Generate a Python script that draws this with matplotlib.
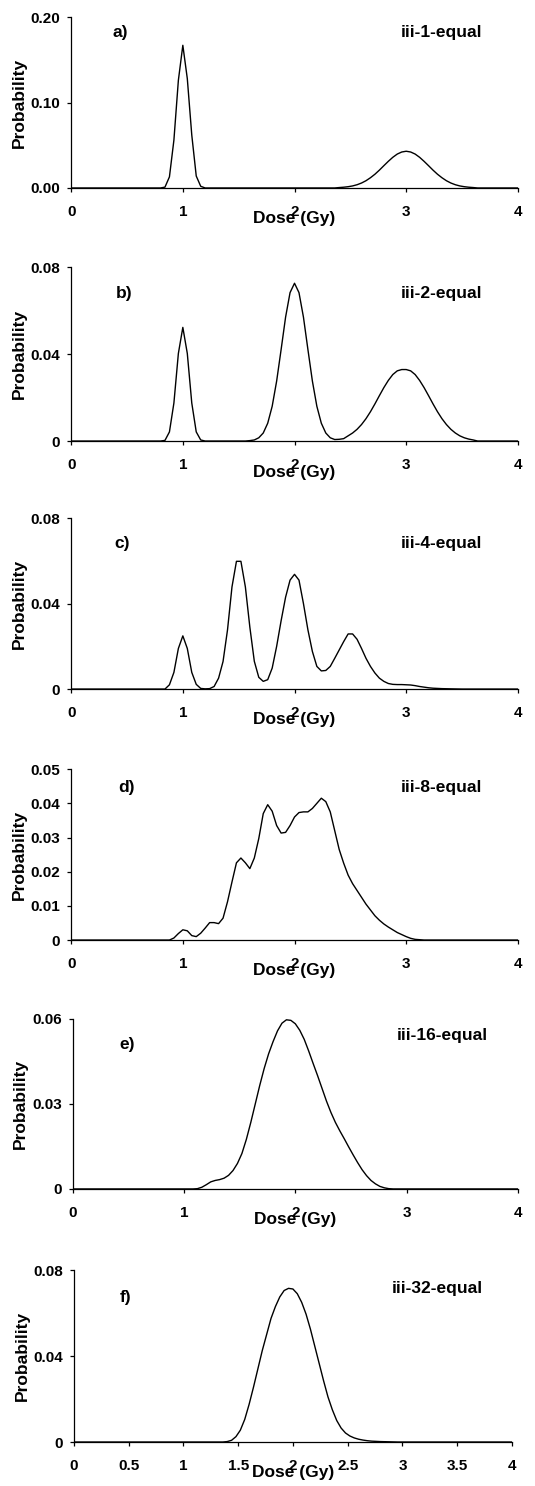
import matplotlib
matplotlib.use("Agg")
import matplotlib.pyplot as plt

plt.rcParams['font.family'] = ['Liberation Sans', 'DejaVu Sans']
plt.rcParams['font.weight'] = 'bold'

# dose grid is 0.04 Gy; only the non-zero stretch of each curve is listed,
# plus zero end points at 0 and 4 Gy

# a) iii-1-equal
dose_a = [0.0, 0.80, 0.84, 0.88, 0.92, 0.96, 1.00, 1.04, 1.08, 1.12, 1.16, 1.20,
          2.36, 2.40, 2.44, 2.48, 2.52, 2.56, 2.60, 2.64, 2.68, 2.72, 2.76, 2.80,
          2.84, 2.88, 2.92, 2.96, 3.00, 3.04, 3.08, 3.12, 3.16, 3.20, 3.24, 3.28,
          3.32, 3.36, 3.40, 3.44, 3.48, 3.52, 3.56, 3.60, 3.64, 4.0]
prob_a = [0.0, 0.0, 0.001, 0.013, 0.056, 0.126, 0.167, 0.128, 0.062, 0.014, 0.002, 0.0,
          0.0, 0.0005, 0.0009, 0.0015, 0.0024, 0.0038, 0.0058, 0.0085, 0.0120, 0.0161, 0.0209, 0.0261,
          0.0312, 0.0359, 0.0397, 0.0421, 0.0430, 0.0421, 0.0397, 0.0359, 0.0312, 0.0261, 0.0209, 0.0161,
          0.0120, 0.0085, 0.0058, 0.0038, 0.0024, 0.0015, 0.0009, 0.0005, 0.0, 0.0]

# b) iii-2-equal
dose_b = [0.0, 0.80, 0.84, 0.88, 0.92, 0.96, 1.00, 1.04, 1.08, 1.12, 1.16, 1.20,
          1.56, 1.60, 1.64, 1.68, 1.72, 1.76, 1.80, 1.84, 1.88, 1.92, 1.96, 2.00,
          2.04, 2.08, 2.12, 2.16, 2.20, 2.24, 2.28, 2.32, 2.36, 2.40, 2.44, 2.48,
          2.52, 2.56, 2.60, 2.64, 2.68, 2.72, 2.76, 2.80, 2.84, 2.88, 2.92, 2.96,
          3.00, 3.04, 3.08, 3.12, 3.16, 3.20, 3.24, 3.28, 3.32, 3.36, 3.40, 3.44,
          3.48, 3.52, 3.56, 3.60, 3.64, 4.0]
prob_b = [0.0, 0.0, 0.0003, 0.0042, 0.0175, 0.0403, 0.0523, 0.0403, 0.0175, 0.0042, 0.0005, 0.0,
          0.0, 0.0002, 0.0005, 0.0015, 0.0037, 0.0082, 0.0160, 0.0276, 0.0421, 0.0570, 0.0683, 0.0726,
          0.0683, 0.0570, 0.0421, 0.0276, 0.0160, 0.0082, 0.0037, 0.0015, 0.0007, 0.0008, 0.0011, 0.0024,
          0.0037, 0.0054, 0.0076, 0.0103, 0.0135, 0.0171, 0.0209, 0.0246, 0.0279, 0.0306, 0.0323, 0.0329,
          0.0329, 0.0323, 0.0306, 0.0279, 0.0246, 0.0209, 0.0171, 0.0135, 0.0103, 0.0076, 0.0054, 0.0037,
          0.0024, 0.0015, 0.0009, 0.0005, 0.0, 0.0]

# c) iii-4-equal
dose_c = [0.0, 0.84, 0.88, 0.92, 0.96, 1.00, 1.04, 1.08, 1.12, 1.16, 1.20, 1.24,
          1.28, 1.32, 1.36, 1.40, 1.44, 1.48, 1.52, 1.56, 1.60, 1.64, 1.68, 1.72,
          1.76, 1.80, 1.84, 1.88, 1.92, 1.96, 2.00, 2.04, 2.08, 2.12, 2.16, 2.20,
          2.24, 2.28, 2.32, 2.36, 2.40, 2.44, 2.48, 2.52, 2.56, 2.60, 2.64, 2.68,
          2.72, 2.76, 2.80, 2.84, 2.88, 2.92, 2.96, 3.00, 3.04, 3.08, 3.12, 3.16,
          3.20, 3.24, 3.28, 3.32, 3.40, 3.50, 4.0]
prob_c = [0.0, 0.0, 0.002, 0.0078, 0.019, 0.0249, 0.019, 0.0078, 0.0022, 0.0003, 0.0001, 0.0002,
          0.0012, 0.0051, 0.0129, 0.0277, 0.0478, 0.0598, 0.0598, 0.0478, 0.0290, 0.0130, 0.0055, 0.0036,
          0.0044, 0.0098, 0.0200, 0.0320, 0.0430, 0.0510, 0.0537, 0.0510, 0.0400, 0.0277, 0.0176, 0.0106,
          0.0085, 0.0087, 0.0106, 0.0144, 0.0183, 0.0222, 0.0258, 0.0258, 0.0233, 0.0190, 0.0144, 0.0106,
          0.0075, 0.0051, 0.0036, 0.0026, 0.0022, 0.0021, 0.0021, 0.0020, 0.0019, 0.0016, 0.0012, 0.0009,
          0.0006, 0.0004, 0.0003, 0.0002, 0.0001, 0.0, 0.0]

# d) iii-8-equal
dose_d = [0.0, 0.88, 0.92, 0.96, 1.00, 1.04, 1.08, 1.12, 1.16, 1.20, 1.24, 1.28,
          1.32, 1.36, 1.40, 1.44, 1.48, 1.52, 1.56, 1.60, 1.64, 1.68, 1.72, 1.76,
          1.80, 1.84, 1.88, 1.92, 1.96, 2.00, 2.04, 2.08, 2.12, 2.16, 2.20, 2.24,
          2.28, 2.32, 2.36, 2.40, 2.44, 2.48, 2.52, 2.56, 2.60, 2.64, 2.68, 2.72,
          2.76, 2.80, 2.84, 2.88, 2.92, 2.96, 3.00, 3.04, 3.08, 3.12, 3.16, 4.0]
prob_d = [0.0, 0.0, 0.0006, 0.0019, 0.0030, 0.0027, 0.0013, 0.0010, 0.0020, 0.0035, 0.0051, 0.0051,
          0.0048, 0.0064, 0.0112, 0.0170, 0.0226, 0.0240, 0.0226, 0.0209, 0.0240, 0.0297, 0.0370, 0.0396,
          0.0377, 0.0335, 0.0313, 0.0315, 0.0335, 0.0360, 0.0373, 0.0375, 0.0375, 0.0385, 0.0400, 0.0415,
          0.0405, 0.0375, 0.0320, 0.0265, 0.0225, 0.0190, 0.0165, 0.0145, 0.0125, 0.0105, 0.0088, 0.0071,
          0.0058, 0.0047, 0.0038, 0.0030, 0.0022, 0.0016, 0.0010, 0.0005, 0.0002, 0.0001, 0.0, 0.0]

# e) iii-16-equal
dose_e = [0.0, 1.08, 1.12, 1.16, 1.20, 1.24, 1.28, 1.32, 1.36, 1.40, 1.44, 1.48,
          1.52, 1.56, 1.60, 1.64, 1.68, 1.72, 1.76, 1.80, 1.84, 1.88, 1.92, 1.96,
          2.00, 2.04, 2.08, 2.12, 2.16, 2.20, 2.24, 2.28, 2.32, 2.36, 2.40, 2.44,
          2.48, 2.52, 2.56, 2.60, 2.64, 2.68, 2.72, 2.76, 2.80, 2.84, 2.88, 4.0]
prob_e = [0.0, 0.0, 0.0001, 0.0006, 0.0015, 0.0025, 0.0030, 0.0033, 0.0038, 0.0048, 0.0065, 0.0090,
          0.0125, 0.0175, 0.0235, 0.0300, 0.0365, 0.0425, 0.0477, 0.0520, 0.0558, 0.0585, 0.0597, 0.0595,
          0.0583, 0.0560, 0.0528, 0.0487, 0.0443, 0.0400, 0.0355, 0.0310, 0.0270, 0.0235, 0.0205, 0.0177,
          0.0148, 0.0120, 0.0093, 0.0068, 0.0047, 0.0030, 0.0018, 0.0009, 0.0004, 0.0001, 0.0, 0.0]

# f) iii-32-equal
dose_f = [0.0, 1.36, 1.40, 1.44, 1.48, 1.52, 1.56, 1.60, 1.64, 1.68, 1.72, 1.76,
          1.80, 1.84, 1.88, 1.92, 1.96, 2.00, 2.04, 2.08, 2.12, 2.16, 2.20, 2.24,
          2.28, 2.32, 2.36, 2.40, 2.44, 2.48, 2.52, 2.56, 2.60, 2.64, 2.68, 2.72,
          2.76, 2.80, 2.88, 2.96, 4.0]
prob_f = [0.0, 0.0, 0.0002, 0.0008, 0.0025, 0.0055, 0.0105, 0.0175, 0.0255, 0.0340, 0.0425, 0.0500,
          0.0575, 0.0630, 0.0675, 0.0705, 0.0715, 0.0712, 0.0690, 0.0650, 0.0595, 0.0525, 0.0445, 0.0365,
          0.0285, 0.0210, 0.0150, 0.0100, 0.0065, 0.0042, 0.0028, 0.0019, 0.0013, 0.0009, 0.0006, 0.0004,
          0.0003, 0.0002, 0.0001, 0.0, 0.0]

letters = ['a)', 'b)', 'c)', 'd)', 'e)', 'f)']
names = ['iii-1-equal', 'iii-2-equal', 'iii-4-equal', 'iii-8-equal', 'iii-16-equal', 'iii-32-equal']
yticks = [[0.0, 0.10, 0.20], [0, 0.04, 0.08], [0, 0.04, 0.08],
          [0, 0.01, 0.02, 0.03, 0.04, 0.05], [0, 0.03, 0.06], [0, 0.04, 0.08]]
yticklabels = [['0.00', '0.10', '0.20'], ['0', '0.04', '0.08'], ['0', '0.04', '0.08'],
               ['0', '0.01', '0.02', '0.03', '0.04', '0.05'], ['0', '0.03', '0.06'], ['0', '0.04', '0.08']]
xticks = [[0, 1, 2, 3, 4]] * 5 + [[0, 0.5, 1, 1.5, 2, 2.5, 3, 3.5, 4]]
xticklabels = [['0', '1', '2', '3', '4']] * 5 + [['0', '0.5', '1', '1.5', '2', '2.5', '3', '3.5', '4']]
doses = [dose_a, dose_b, dose_c, dose_d, dose_e, dose_f]
probs = [prob_a, prob_b, prob_c, prob_d, prob_e, prob_f]

# layout (figure fractions) and label positions (axes fractions)
boxes = [(0.133, 0.8735, 0.835, 0.115),
         (0.133, 0.7032, 0.835, 0.117),
         (0.133, 0.5363, 0.835, 0.115),
         (0.133, 0.3674, 0.835, 0.115),
         (0.136, 0.1999, 0.832, 0.1144),
         (0.138, 0.0296, 0.819, 0.1157)]
letter_x = [0.11, 0.118, 0.115, 0.125, 0.122, 0.117]
letter_y = [0.91, 0.85, 0.854, 0.895, 0.847, 0.843]
name_y = [0.91, 0.85, 0.854, 0.895, 0.90, 0.895]

fig = plt.figure(figsize=(5.35, 14.86), dpi=100)

for i in range(6):
    ax = fig.add_axes(boxes[i])
    ax.plot(doses[i], probs[i], color='black', lw=1.0)
    ax.set_xlim(0, 4)
    ax.set_ylim(yticks[i][0], yticks[i][-1])
    ax.set_xticks(xticks[i])
    ax.set_xticklabels(xticklabels[i])
    ax.set_yticks(yticks[i])
    ax.set_yticklabels(yticklabels[i])
    ax.spines['right'].set_visible(False)
    ax.spines['top'].set_visible(False)
    for s in ['left', 'bottom']:
        ax.spines[s].set_linewidth(0.9)
    ax.tick_params(axis='x', direction='out', length=3, width=0.9, pad=9, labelsize=11)
    ax.tick_params(axis='y', direction='out', length=3, width=0.9, pad=5, labelsize=11)
    for lab in ax.get_xticklabels() + ax.get_yticklabels():
        lab.set_fontweight('bold')
    ax.set_xlabel('Dose (Gy)', fontsize=12.5, fontweight='bold')
    ax.xaxis.set_label_coords(0.5, -0.135)
    ax.set_ylabel('Probability', fontsize=12.5, fontweight='bold')
    ax.yaxis.set_label_coords(-0.10, 0.5)
    ax.text(letter_x[i], letter_y[i], letters[i], transform=ax.transAxes, fontsize=12.5,
            fontweight='bold', ha='center', va='center')
    ax.text(0.83, name_y[i], names[i], transform=ax.transAxes, fontsize=12.5,
            fontweight='bold', ha='center', va='center')

fig.savefig('out.png', dpi=100)
